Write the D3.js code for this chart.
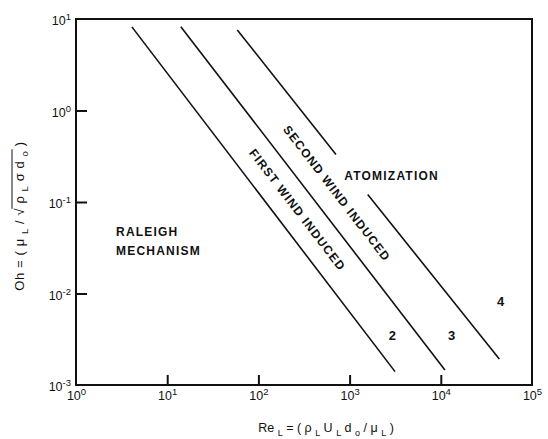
<!DOCTYPE html>
<html><head><meta charset="utf-8">
<script src="https://cdn.jsdelivr.net/npm/d3@7"></script>
<style>body{margin:0;background:#fff}svg{display:block}</style>
</head><body>
<script>
// ---- data ----
const xTickValues = [1, 10, 100, 1000, 10000, 100000];
const xTickExponents = ["0", "1", "2", "3", "4", "5"];
const yTickValues = [0.001, 0.01, 0.1, 1, 10];
const yTickExponents = ["-3", "-2", "-1", "0", "1"];
const line2 = [[4.1, 8.2], [3150, 0.0014]];
const line3 = [[14.1, 8.25], [11100, 0.00146]];
const line4a = [[58.7, 7.6], [709, 0.33]];
const line4b = [[1580, 0.121], [43800, 0.00192]];
const regionLabels = [
  {text: "RALEIGH", x: 2.75, y: 0.0424},
  {text: "MECHANISM", x: 2.75, y: 0.0261},
  {text: "ATOMIZATION", x: 875, y: 0.176}
];
const lineNumbers = [
  {text: "2", x: 2940, y: 0.00312},
  {text: "3", x: 13180, y: 0.00314},
  {text: "4", x: 45400, y: 0.0073}
];
const slantLabels = [
  {text: "SECOND WIND INDUCED", x: 722, y: 0.124},
  {text: "FIRST WIND INDUCED", x: 267, y: 0.0818}
];

const W = 548, H = 439;
const svg = d3.select("body").append("svg").attr("width", W).attr("height", H);
const x = d3.scaleLog().domain([1, 1e5]).range([76, 532]);
const y = d3.scaleLog().domain([1e-3, 10]).range([385, 19]);
const font = "'Liberation Sans', Arial, sans-serif";
const ink = "#111";

// frame
svg.append("rect").attr("x", x(1)).attr("y", y(10))
  .attr("width", x(1e5) - x(1)).attr("height", y(1e-3) - y(10))
  .attr("fill", "none").attr("stroke", ink).attr("stroke-width", 2);

// axes
const gx = svg.append("g").attr("transform", `translate(0,${y(1e-3)})`)
  .call(d3.axisBottom(x).tickValues(xTickValues).tickSize(0).tickPadding(0).tickFormat(""));
gx.select(".domain").remove();
gx.selectAll(".tick line").attr("y2", d => (d > 1 && d < 1e5) ? -10 : 0)
  .attr("stroke", ink).attr("stroke-width", 2);
gx.selectAll(".tick text").each(function(d, i) {
  const t = d3.select(this).attr("y", 15).attr("dy", null)
    .attr("font-family", font).attr("font-size", 12.5).attr("fill", ink);
  t.text(null);
  t.append("tspan").text("10");
  t.append("tspan").attr("dy", -5).attr("font-size", 9.5).text(xTickExponents[i]);
});

const gy = svg.append("g").attr("transform", `translate(${x(1)},0)`)
  .call(d3.axisLeft(y).tickValues(yTickValues).tickSize(0).tickPadding(5).tickFormat(""));
gy.select(".domain").remove();
gy.selectAll(".tick line").attr("x2", d => (d > 1e-3 && d < 10) ? 11 : 0)
  .attr("stroke", ink).attr("stroke-width", 2);
gy.selectAll(".tick text").each(function(d, i) {
  const t = d3.select(this).attr("dy", "0.45em")
    .attr("font-family", font).attr("font-size", 12.5).attr("fill", ink);
  t.text(null);
  t.append("tspan").text("10");
  t.append("tspan").attr("dy", -5).attr("font-size", 9.5).text(yTickExponents[i]);
});

// lines
const lineGen = d3.line().x(d => x(d[0])).y(d => y(d[1]));
[line2, line3, line4a, line4b].forEach(l => {
  svg.append("path").attr("d", lineGen(l)).attr("fill", "none")
    .attr("stroke", ink).attr("stroke-width", 1.6);
});

// region labels
regionLabels.forEach(r => {
  svg.append("text").attr("x", x(r.x)).attr("y", y(r.y))
    .attr("font-family", font).attr("font-size", 12).attr("font-weight", "bold")
    .attr("letter-spacing", 1.2).attr("fill", ink).text(r.text);
});
lineNumbers.forEach(r => {
  svg.append("text").attr("x", x(r.x)).attr("y", y(r.y)).attr("text-anchor", "middle")
    .attr("font-family", font).attr("font-size", 13).attr("font-weight", "bold")
    .attr("fill", ink).text(r.text);
});
slantLabels.forEach(r => {
  svg.append("text")
    .attr("transform", `translate(${x(r.x)},${y(r.y)}) rotate(52.5)`)
    .attr("text-anchor", "middle").attr("dominant-baseline", "central")
    .attr("font-family", font).attr("font-size", 12).attr("font-weight", "bold")
    .attr("letter-spacing", 1.2).attr("fill", ink).text(r.text);
});

// rich text helper: segments [text, isSub]
function rich(t, segs, subSize, shift) {
  let off = 0;
  segs.forEach(([s, sub]) => {
    const target = sub ? shift : 0;
    const ts = t.append("tspan").text(s);
    if (target !== off) ts.attr("dy", target - off);
    if (sub) ts.attr("font-size", subSize);
    off = target;
  });
}

// x title
const xt = svg.append("text").attr("x", 326).attr("y", 432).attr("text-anchor", "middle")
  .attr("font-family", font).attr("font-size", 12.5).attr("fill", ink);
rich(xt, [["Re ", false], ["L", true], [" = ( ρ ", false], ["L", true], [" U ", false], ["L", true],
  [" d ", false], ["o", true], [" / μ ", false], ["L", true], [" )", false]], 9, 4);

// y title
const yg = svg.append("g").attr("transform", "translate(24,216) rotate(-90)");
const yt = yg.append("text").attr("text-anchor", "middle")
  .attr("font-family", font).attr("font-size", 13).attr("letter-spacing", 0.6).attr("fill", ink);
rich(yt, [["Oh = ( μ ", false], ["L", true], [" / √ ρ ", false], ["L", true], [" σ d ", false],
  ["o", true], [" )", false]], 9.5, 4);
// overline for the root
const node = yt.node();
const n = node.getNumberOfChars();
const full = node.textContent;
const rootIdx = full.indexOf("√");
const p0 = node.getEndPositionOfChar(Math.min(rootIdx, n - 1));
const p1 = node.getStartPositionOfChar(n - 1);
yg.append("line").attr("x1", p0.x - 1).attr("x2", p1.x - 3)
  .attr("y1", -12).attr("y2", -12).attr("stroke", ink).attr("stroke-width", 1);
</script>
</body></html>
